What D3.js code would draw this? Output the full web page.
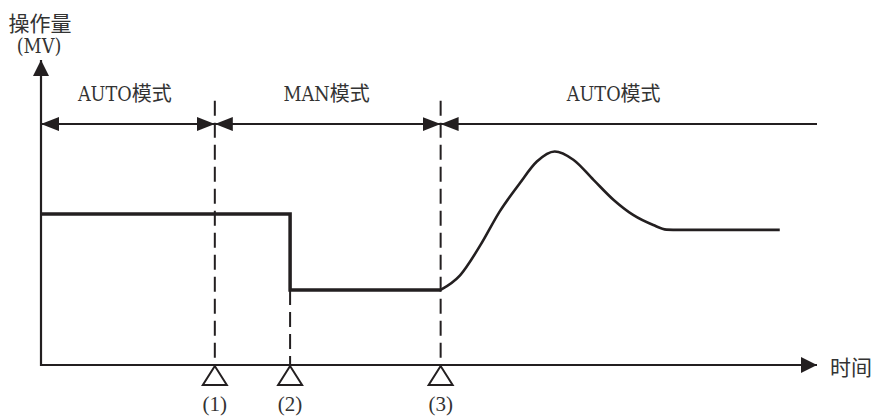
<!DOCTYPE html>
<html>
<head>
<meta charset="utf-8">
<script src="https://cdn.jsdelivr.net/npm/d3@7"></script>
<style>
  body { margin: 0; background: #fff; }
</style>
</head>
<body>
<div id="chart"></div>
<script>
// time axis runs 0..100, MV axis 0..100
var markerNames = ["(1)", "(2)", "(3)"];
var markerTimes = [22.4, 32.1, 51.5];

var modeNames = ["AUTO模式", "MAN模式", "AUTO模式"];
var modeStarts = [0, 22.4, 51.5];
var modeEnds = [22.4, 51.5, 100];
var modeLabelTimes = [10.8, 36.8, 73.8];
var modeLevel = 79.0;
var dashTop = 86.6;

// manipulated value: step part (AUTO -> MAN)
var stepTimes = [0, 32.1, 32.1, 51.5];
var stepValues = [49.5, 49.5, 24.6, 24.6];

// response after switching back to AUTO
var curveTimes = [51.5, 54.0, 56.6, 59.1, 61.7, 63.9, 66.2, 68.6, 71.2, 73.8, 76.3, 78.9, 80.6, 82.3, 95.2];
var curveValues = [24.6, 29.4, 39.2, 50.3, 59.6, 66.7, 70.0, 67.3, 60.7, 54.1, 49.2, 45.9, 44.4, 44.3, 44.3];

var yLabel = ["操作量", "(MV)"];
var xLabel = "时间";

var width = 874, height = 416;

var svg = d3.select("#chart")
  .append("svg")
  .attr("width", width)
  .attr("height", height);

var x = d3.scaleLinear().domain([0, 100]).range([41, 817]);
var y = d3.scaleLinear().domain([0, 100]).range([365, 60]);

var ink = "#231f20";
var latinFont = "'DejaVu Serif Condensed', 'DejaVu Serif', serif";
var cjkFont = "'Noto Sans CJK SC', sans-serif";

// label helper: latin part in a narrow serif, CJK part normal
function addLabel(g, str, px, py, size, anchor) {
  var t = g.append("text")
    .attr("x", px).attr("y", py)
    .attr("text-anchor", anchor || "middle")
    .attr("fill", "#333");
  var parts = str.match(/[\x00-\x7f]+|[^\x00-\x7f]+/g);
  parts.forEach(function(p) {
    var ts = t.append("tspan").text(p);
    if (/^[\x00-\x7f]+$/.test(p)) {
      ts.style("font-family", latinFont)
        .style("font-stretch", "condensed")
        .style("font-size", (size * 0.98) + "px");
    } else {
      ts.style("font-family", cjkFont).style("font-size", size + "px");
    }
  });
  return t;
}

// arrowheads
var defs = svg.append("defs");
defs.append("marker")
  .attr("id", "axisHead")
  .attr("viewBox", "0 0 16 16")
  .attr("refX", 16).attr("refY", 8)
  .attr("markerWidth", 16).attr("markerHeight", 16)
  .attr("markerUnits", "userSpaceOnUse")
  .attr("orient", "auto")
  .append("path").attr("d", "M0,0L16,8L0,16Z").attr("fill", ink);
defs.append("marker")
  .attr("id", "modeHead")
  .attr("viewBox", "0 0 18 14")
  .attr("refX", 18).attr("refY", 7)
  .attr("markerWidth", 18).attr("markerHeight", 14)
  .attr("markerUnits", "userSpaceOnUse")
  .attr("orient", "auto-start-reverse")
  .append("path").attr("d", "M0,0L18,7L0,14Z").attr("fill", ink);

// dashed switch lines
svg.selectAll("dashLines")
  .data(markerTimes)
  .enter()
  .append("line")
    .attr("x1", function(d) { return x(d); })
    .attr("x2", function(d) { return x(d); })
    .attr("y1", function(d, i) { return i === 1 ? y(stepValues[2]) : y(dashTop); })
    .attr("y2", y(0))
    .attr("stroke", ink)
    .attr("stroke-width", 2)
    .attr("stroke-dasharray", "15,7");

// axes
svg.append("line")
  .attr("x1", x(0)).attr("y1", y(0))
  .attr("x2", x(100)).attr("y2", y(0))
  .attr("stroke", ink).attr("stroke-width", 2.2)
  .attr("marker-end", "url(#axisHead)");
svg.append("line")
  .attr("x1", x(0)).attr("y1", y(0) + 1)
  .attr("x2", x(0)).attr("y2", y(100))
  .attr("stroke", ink).attr("stroke-width", 2.2)
  .attr("marker-end", "url(#axisHead)");

// mode span arrows
svg.selectAll("modeLines")
  .data(modeNames)
  .enter()
  .append("line")
    .attr("x1", function(d, i) { return x(modeStarts[i]); })
    .attr("x2", function(d, i) { return x(modeEnds[i]); })
    .attr("y1", y(modeLevel)).attr("y2", y(modeLevel))
    .attr("stroke", ink).attr("stroke-width", 2)
    .attr("marker-start", "url(#modeHead)")
    .attr("marker-end", function(d, i) { return i < modeNames.length - 1 ? "url(#modeHead)" : null; });

var labels = svg.append("g");
modeNames.forEach(function(m, i) {
  addLabel(labels, m, x(modeLabelTimes[i]), 101, 20);
});

// MV trace
var line = d3.line()
  .x(function(d) { return x(d.t); })
  .y(function(d) { return y(d.v); });
var stepData = stepTimes.map(function(t, i) { return {t: t, v: stepValues[i]}; });
svg.append("path")
  .attr("d", line(stepData))
  .attr("fill", "none").attr("stroke", ink)
  .attr("stroke-width", 3.5)
  .attr("stroke-linejoin", "miter");

var curveData = curveTimes.map(function(t, i) { return {t: t, v: curveValues[i]}; });
svg.append("path")
  .attr("d", line.curve(d3.curveMonotoneX)(curveData))
  .attr("fill", "none").attr("stroke", ink)
  .attr("stroke-width", 2.6);

// switch markers below the time axis
var mk = svg.selectAll("markers")
  .data(markerTimes)
  .enter()
  .append("g")
    .attr("transform", function(d) { return "translate(" + x(d) + "," + (y(0) + 1) + ")"; });
mk.append("path")
  .attr("d", "M0,0L-12,19L12,19Z")
  .attr("fill", "#fff").attr("stroke", ink).attr("stroke-width", 2);
mk.append("text")
  .attr("y", 45)
  .attr("text-anchor", "middle")
  .style("font-family", "'Liberation Serif', serif")
  .style("font-size", "21px")
  .attr("fill", "#333")
  .text(function(d, i) { return markerNames[i]; });

// axis titles
addLabel(labels, yLabel[0], 40, 31, 21);
addLabel(labels, yLabel[1], 39, 53, 20);
addLabel(labels, xLabel, 830, 375, 21, "start");
</script>
</body>
</html>
